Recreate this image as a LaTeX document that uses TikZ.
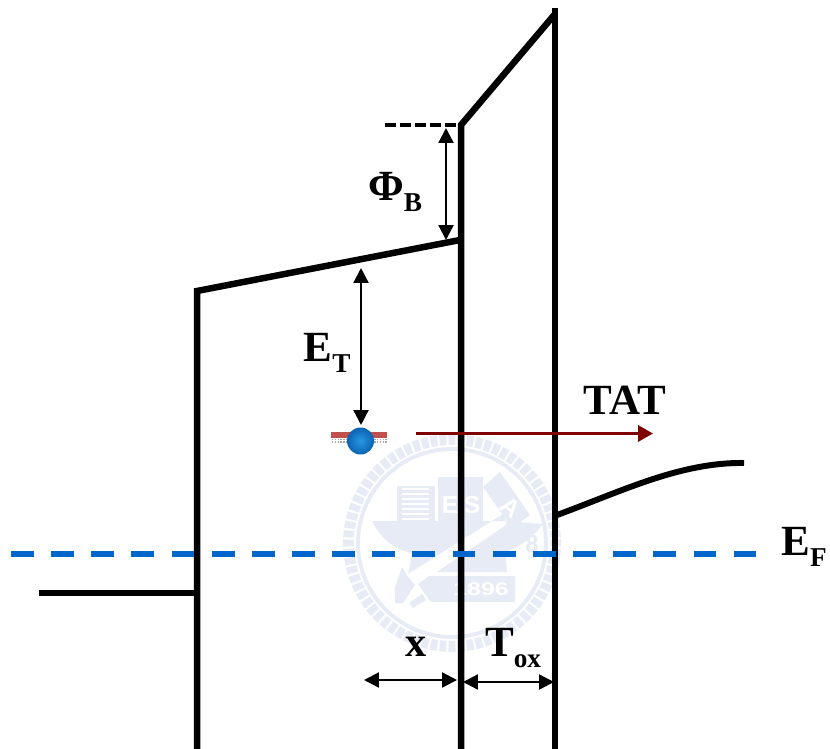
\documentclass[tikz,border=0pt]{standalone}
\usepackage{xcolor}
\usepackage{fontspec}
\setmainfont{Liberation Serif}
\setsansfont{Liberation Sans}
\usetikzlibrary{arrows.meta, calc}
\definecolor{sealblue}{RGB}{230,235,245}
\definecolor{levelblue}{RGB}{0,102,204}
\definecolor{tatred}{RGB}{128,0,0}
\definecolor{trapred}{RGB}{192,80,77}
\definecolor{ballblue}{RGB}{10,100,180}
\definecolor{balllight}{RGB}{40,150,225}
\newcommand{\biglabel}[2]{\fontsize{24.5}{24.5}\selectfont\textbf{#1}\raisebox{-6.5pt}{\fontsize{15.5}{15.5}\selectfont\textbf{#2}}}
\tikzset{
  wall/.style={line width=3.7pt, line join=miter},
  spanarrow/.style={line width=1.3pt, {Stealth[inset=0pt,length=8.5pt,width=8.5pt]}-{Stealth[inset=0pt,length=8.5pt,width=8.5pt]}},
  sealpart/.style={fill=sealblue, draw=none},
  sealtext/.style={text=white, font=\bfseries\sffamily\fontsize{14}{14}\selectfont, inner sep=0pt},
  lab/.style={font=\bfseries, inner sep=0pt}
}
\begin{document}
\begin{tikzpicture}[x=0.02cm, y=-0.02cm, >={Stealth[inset=0pt,length=8.5pt,width=8.5pt]}]
  \useasboundingbox (0,0) rectangle (830,749);
  \coordinate (seal) at (452,543);
  \foreach \ang in {0,5,...,355} {
    \fill[sealblue] ($(seal)+(\ang-1.9:98)$) -- ($(seal)+(\ang-1.9:109)$) -- ($(seal)+(\ang+1.9:109)$) -- ($(seal)+(\ang+1.9:98)$) -- cycle;
  }
  \draw[sealblue, line width=2.2pt] (seal) circle (94);
  \fill[sealpart] (397,486) rectangle (435,521);
  \fill[sealpart] (438,477) rectangle (483,521);
  \fill[sealpart] (483,487) -- (500,472) -- (530,515) -- (512,528) -- cycle;
  \fill[sealpart] (372,521) .. controls (380,538) and (395,550) .. (412,553) -- (410,565) -- (408,574) -- (503,514) -- (506,521) -- cycle;
  \fill[sealpart] (506,521) -- (543,524) .. controls (530,540) and (518,548) .. (505,552) -- (507,572) -- (437,572) -- (506,525) -- cycle;
  \fill[sealpart] (418,584) -- (429,576) -- (515,576) -- (515,602) -- (431,602) -- cycle;
  \fill[sealpart] (395,603) -- (395,587) -- (402,567) -- (408,577) -- (415,585) -- (403,603) -- cycle;
  \fill[sealpart] (409,603) -- (422,594) -- (426,600) -- (413,608) -- cycle;
  \foreach \liney in {489,494,...,519} {
    \draw[white, line width=1pt] (402,\liney) -- (429,\liney);
  }
  \node[sealtext] (seale) at (450,505) {E};
  \node[sealtext] (seals) at (472,505) {S};
  \node[sealtext, rotate=-38] (seala) at (511,507) {A};
  \node[sealtext, xscale=1.35, font=\bfseries\sffamily\fontsize{10.5}{10.5}\selectfont] (sealyear) at (481,589) {1896};
  \node[sealtext, text=sealblue, font=\bfseries\sffamily\fontsize{14}{14}\selectfont] (sealeight) at (532,544) {8};

  \coordinate (leftbot) at (197,749);
  \coordinate (lefttop) at (197,291);
  \coordinate (midlow) at (460,240);
  \coordinate (midbot) at (461,749);
  \coordinate (midtop) at (461,125);
  \coordinate (rightbot) at (555,749);
  \coordinate (righttop) at (555,8);
  \coordinate (gatestart) at (39,593);
  \coordinate (gateend) at (197,593);
  \coordinate (siend) at (744,463);
  \coordinate (sistart) at (557,515);
  \coordinate (dashstart) at (385,125);
  \draw[wall] (leftbot) -- (lefttop) -- (midlow);
  \draw[wall] (midbot) -- (midtop) -- (555,14);
  \draw[wall] (rightbot) -- (righttop);
  \draw[wall] (gatestart) -- (gateend);
  \draw[line width=3.4pt] (sistart) .. controls (620,492) and (680,462) .. (siend);
  \draw[line width=2.4pt, dash pattern=on 6.4pt off 2.1pt] (dashstart) -- (midtop);

  \coordinate (efstart) at (11,554);
  \coordinate (efend) at (760,554);
  \draw[levelblue, line width=3.4pt, dash pattern=on 13pt off 9.85pt] (efstart) -- (efend);

  \coordinate (barleft) at (331,435);
  \coordinate (barright) at (387,435);
  \foreach \doty in {439.5,442} {
    \draw[gray!70, line width=0.7pt, dash pattern=on 0.8pt off 0.8pt] (332,\doty) -- (387,\doty);
  }
  \draw[trapred, line width=3.4pt] (barleft) -- (barright);
  \shade[inner color=balllight, outer color=ballblue] (360.5,441) circle (13.5);
  \coordinate (trap) at (361,425);

  \coordinate (tatstart) at (416,433.5);
  \coordinate (tatend) at (653,433.5);
  \draw[tatred, line width=2.1pt, -{Stealth[inset=0pt,length=8.5pt,width=9pt]}] (tatstart) -- (tatend);

  \coordinate (phitop) at (446,128);
  \coordinate (phibot) at (446,240);
  \draw[spanarrow] (phitop) -- (phibot);
  \coordinate (ettop) at (361,268);
  \draw[spanarrow] (ettop) -- (trap);
  \coordinate (xleft) at (364,680);
  \coordinate (xright) at (457,680);
  \draw[spanarrow] (xleft) -- (xright);
  \coordinate (toxleft) at (463,682);
  \coordinate (toxright) at (554,682);
  \draw[spanarrow] (toxleft) -- (toxright);

  \node[lab] (phib) at (395,192) {\biglabel{Φ}{B}};
  \node[lab] (et) at (327,353) {\biglabel{E}{T}};
  \node[lab, font=\bfseries\fontsize{24.5}{24.5}\selectfont] (tat) at (625,400) {TAT};
  \node[lab] (ef) at (804,547) {\biglabel{E}{F}};
  \node[lab, font=\bfseries\fontsize{24}{24}\selectfont] (xlabel) at (416,647) {x};
  \node[lab] (tox) at (513,648) {\biglabel{T}{ox}};
\end{tikzpicture}
\end{document}
